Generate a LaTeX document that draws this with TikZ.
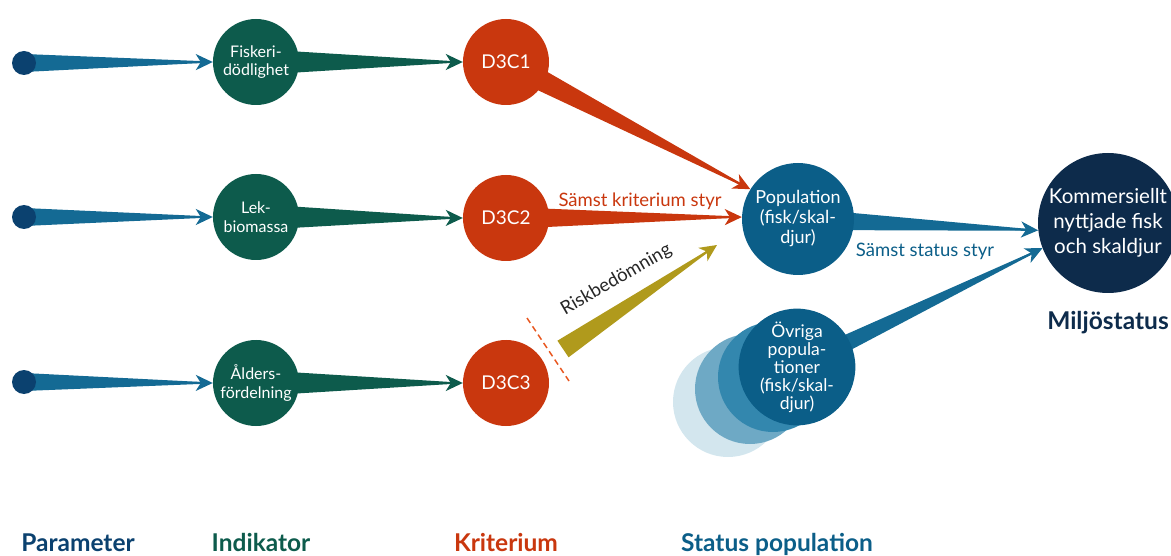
\documentclass[tikz,border=0pt]{standalone}
\usepackage{fontspec}
\setmainfont{Lato}
\usetikzlibrary{calc,arrows.meta,backgrounds}
\definecolor{parblue}{HTML}{0B416F}
\definecolor{wblue}{HTML}{146A94}
\definecolor{ingreen}{HTML}{0D5B4C}
\definecolor{crred}{HTML}{C9370E}
\definecolor{olive}{HTML}{B09A1C}
\definecolor{popblue}{HTML}{0B5E88}
\definecolor{navy}{HTML}{0D2B4B}
\definecolor{lb1}{HTML}{D3E6EE}
\definecolor{lb2}{HTML}{6EA9C5}
\definecolor{lb3}{HTML}{3387AE}
\definecolor{dashred}{HTML}{E8541C}
\newcommand{\taper}[4]{%
  \path ($(#2)!12pt!(#1)$) coordinate (tb);
  \fill[#4] ($(#1)!#3!90:(#2)$) -- ($(tb)!1pt!-90:(#1)$) -- ($(tb)!1pt!90:(#1)$) -- ($(#1)!#3!-90:(#2)$) -- cycle;
  \draw[#4, line width=2pt, -{Stealth[length=17pt,width=16pt,inset=5pt]}] ($(#2)!30pt!(#1)$) -- (#2);
}
\tikzset{
  dot/.style={circle, fill=parblue, minimum size=24pt, inner sep=0pt},
  ind/.style={circle, fill=ingreen, minimum size=86pt, inner sep=0pt, text=white, align=center, font=\fontsize{16}{18.5}\selectfont},
  crit/.style={circle, fill=crred, minimum size=86pt, inner sep=0pt, text=white, font=\fontsize{19}{22}\selectfont},
  pop/.style={circle, fill=popblue, minimum size=112pt, inner sep=0pt, text=white, align=center, font=\fontsize{18}{20}\selectfont},
  big/.style={circle, fill=navy, minimum size=140pt, inner sep=0pt, text=white, align=center, font=\fontsize{20.5}{25}\selectfont},
  bottomlab/.style={anchor=base, font=\bfseries\fontsize{24.5}{28}\selectfont},
  lbl/.style={font=\fontsize{18.5}{22}\selectfont}
}
\begin{document}
\begin{tikzpicture}[x=1pt,y=-1pt]
\useasboundingbox (0,0) rectangle (1171,556);
% parameter dots
\node[dot] (P1) at (24,63) {};
\node[dot] (P2) at (24,217) {};
\node[dot] (P3) at (24,382) {};
% indicators
\node[ind] (I1) at (256,62) {Fiskeri-\\dödlighet};
\node[ind] (I2) at (256,217) {Lek-\\biomassa};
\node[ind] (I3) at (256,383) {Ålders-\\fördelning};
% criteria
\node[crit] (C1) at (506,62) {D3C1};
\node[crit] (C2) at (506,218) {D3C2};
\node[crit] (C3) at (506,383) {D3C3};
% population
\node[pop] (Pop) at (798,219) {Population\\(fisk/skal-\\djur)};
% other populations stack
\fill[lb1] (728,402) circle (55pt);
\fill[lb2] (750,389) circle (55pt);
\fill[lb3] (773,377) circle (55pt);
\node[pop, minimum size=110pt, font=\fontsize{17.5}{18}\selectfont] (Ovr) at (797,367) {Övriga\\popula-\\tioner\\(fisk/skal-\\djur)};
% big
\node[big] (Big) at (1108,223) {Kommersiellt\\nyttjade fisk\\och skaldjur};
\coordinate (rs) at (563,349);
\coordinate (re) at (717,245);
\coordinate (d1) at (527,318);
\coordinate (d2) at (569,381);
\begin{pgfonlayer}{background}
\taper{P1}{I1.west}{9pt}{wblue}
\taper{P2}{I2.west}{9pt}{wblue}
\taper{P3}{I3.west}{9pt}{wblue}
\taper{I1}{C1.west}{13pt}{ingreen}
\taper{I2}{C2.west}{13pt}{ingreen}
\taper{I3}{C3.west}{13pt}{ingreen}
\taper{C1}{Pop.148}{12pt}{crred}
\taper{C2}{Pop.178}{11pt}{crred}
\taper{rs}{re}{10pt}{olive}
\taper{Pop}{Big.186}{11pt}{wblue}
\taper{Ovr}{Big.201}{10pt}{wblue}
\end{pgfonlayer}
\draw[dashred, line width=1.5pt, dash pattern=on 6pt off 4pt] (d1) -- (d2);
% labels
\node[lbl, text=crred, anchor=base] (lk) at (640,207) {Sämst kriterium styr};
\node[lbl, text=popblue, anchor=base] (ls) at (925,257) {Sämst status styr};
\node[lbl, text=black!85, rotate=30, anchor=base west] (lr) at (562,317) {Riskbedömning};
\node[bottomlab, text=navy] (lm) at (1108,330) {Miljöstatus};
\node[bottomlab, text=parblue] (b1) at (78,551) {Parameter};
\node[bottomlab, text=ingreen] (b2) at (261,551) {Indikator};
\node[bottomlab, text=crred] (b3) at (506,551) {Kriterium};
\node[bottomlab, text=popblue] (b4) at (777,551) {Status population};
\end{tikzpicture}
\end{document}
